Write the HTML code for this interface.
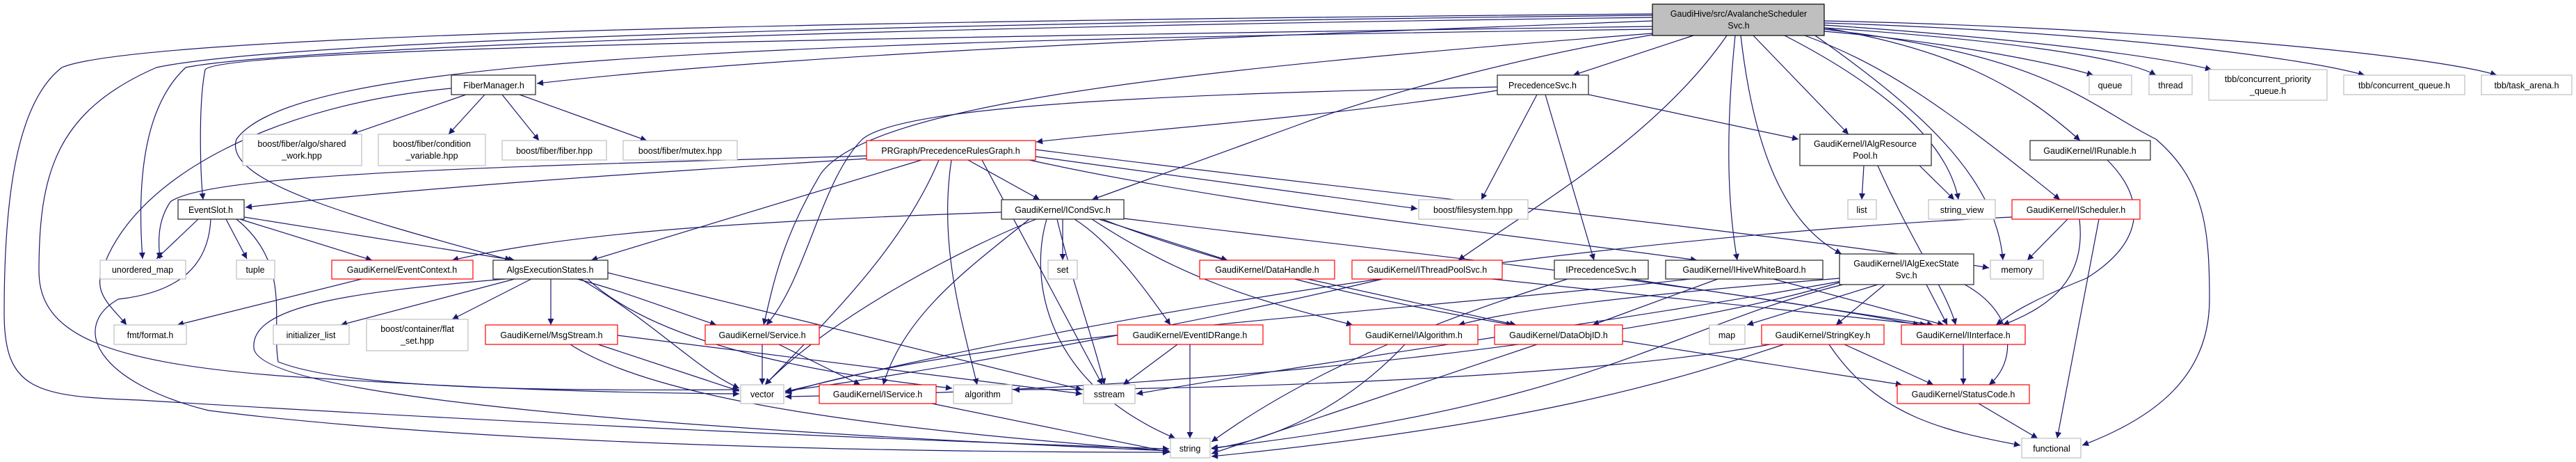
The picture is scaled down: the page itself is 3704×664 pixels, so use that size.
<!DOCTYPE html>
<html><head><meta charset="utf-8"><style>
html,body{margin:0;padding:0;background:#fff;}
svg{display:block;}
text{font-family:"Liberation Sans",sans-serif;font-size:12.5px;fill:#000;text-anchor:middle;}
.e{fill:none;stroke:#191970;stroke-width:1.2;marker-end:url(#a);}
.b{fill:#fff;stroke:#333;stroke-width:1.3;}
.r{fill:#fff;stroke:#ff0000;stroke-width:1.2;}
.g{fill:#fff;stroke:#bfbfbf;stroke-width:1.2;}
</style></head><body>
<svg width="3704" height="664" viewBox="0 0 3704 664" xmlns="http://www.w3.org/2000/svg">
<defs><marker id="a" viewBox="0 0 10 10" refX="10" refY="5" markerWidth="11" markerHeight="9" markerUnits="userSpaceOnUse" orient="auto"><path d="M0,0 L10,5 L0,10 z" fill="#191970"/></marker></defs>
<g>
<!-- main edges -->
<path class="e" d="M2376,30 C2000,45 1200,70 772,120"/>
<path class="e" d="M2435,51 L2262,108"/>
<path class="e" d="M2376,38 C1200,55 320,70 295,100 C285,150 288,250 292,287"/>
<path class="e" d="M2376,42 C1000,60 420,90 340,200 C320,260 500,310 735,374"/>
<path class="e" d="M2376,50 C2200,80 2000,130 1860,182 L1570,287"/>
<path class="e" d="M2483,51 C2380,200 2200,300 2097,374"/>
<path class="e" d="M2495,51 C2480,200 2485,300 2498,374"/>
<path class="e" d="M2503,51 C2520,200 2560,320 2648,365"/>
<path class="e" d="M2521,51 L2658,193"/>
<path class="e" d="M2566,51 C2700,120 2800,200 2816,287"/>
<path class="e" d="M2595,51 C2700,90 2780,140 2962,287"/>
<path class="e" d="M2623,40 C2800,70 2900,120 2991,202"/>
<path class="e" d="M2610,51 C2750,150 2870,250 2880,374"/>
<path class="e" d="M2623,42 C2950,80 3000,150 3100,200 C3170,260 3177,330 3177,430 C3177,540 3100,600 2994,640"/>
<path class="e" d="M2623,45 C2800,60 2950,90 3010,108"/>
<path class="e" d="M2623,40 C2850,55 3050,80 3100,108"/>
<path class="e" d="M2623,36 C2900,55 3100,80 3180,100"/>
<path class="e" d="M2623,33 C3000,45 3300,80 3400,108"/>
<path class="e" d="M2623,30 C3100,40 3500,80 3590,108"/>
<path class="e" d="M2376,20 C1200,30 200,50 89,97 C20,150 6,300 6,450 C6,560 50,570 200,575 C600,600 1200,630 1681,645"/>
<path class="e" d="M2376,22 C1200,35 400,60 225,97 C80,160 56,250 56,390 C56,480 150,520 400,540 C700,560 900,565 1063,566"/>
<path class="e" d="M2376,25 C1200,40 400,70 267,97 C210,150 196,250 205,372"/>
<path class="e" d="M2376,48 C1700,100 1250,150 1180,250 C1120,350 1110,420 1098,467"/>
<!-- FiberManager -->
<path class="e" d="M670,136 L505,193"/>
<path class="e" d="M697,136 L645,193"/>
<path class="e" d="M722,136 L775,202"/>
<path class="e" d="M747,136 L930,202"/>
<path class="e" d="M649,127 C400,150 200,250 150,380 C130,420 160,440 182,467"/>
<!-- PrecedenceSvc -->
<path class="e" d="M2153,125 C1700,135 1300,150 1240,200 C1180,260 1160,400 1102,467"/>
<path class="e" d="M2153,130 C1900,170 1600,190 1490,204"/>
<path class="e" d="M2210,136 L2130,287"/>
<path class="e" d="M2222,136 L2292,374"/>
<path class="e" d="M2284,136 L2586,200"/>
<!-- EventSlot -->
<path class="e" d="M285,315 L225,372"/>
<path class="e" d="M325,315 L355,372"/>
<path class="e" d="M345,315 L535,374"/>
<path class="e" d="M351,312 L740,374"/>
<path class="e" d="M303,315 C300,380 260,420 170,430 C100,470 140,550 300,590 C700,640 1300,650 1681,650"/>
<path class="e" d="M340,315 C420,380 390,460 400,520 C500,560 800,562 1063,560"/>
<!-- EventContext -->
<path class="e" d="M520,401 L255,467"/>
<!-- AlgsExecutionStates -->
<path class="e" d="M740,401 L490,467"/>
<path class="e" d="M764,401 L650,459"/>
<path class="e" d="M792,401 L792,467"/>
<path class="e" d="M830,401 C900,420 950,440 1030,467"/>
<path class="e" d="M835,401 C950,470 1000,530 1063,558"/>
<path class="e" d="M845,401 C950,500 1200,540 1369,558"/>
<path class="e" d="M727,401 C500,420 360,440 365,500 C370,560 800,610 1681,648"/>
<path class="e" d="M874,392 L1556,560"/>
<!-- MsgStream -->
<path class="e" d="M860,495 L1063,562"/>
<path class="e" d="M820,495 C950,580 1300,620 1681,648"/>
<path class="e" d="M888,482 L1556,566"/>
<!-- PRGraph -->
<path class="e" d="M1246,228 C900,250 600,270 353,298"/>
<path class="e" d="M1246,224 C700,240 300,250 245,290 C225,320 228,350 230,372"/>
<path class="e" d="M1325,230 L850,374"/>
<path class="e" d="M1392,230 L1495,287"/>
<path class="e" d="M1350,230 C1300,350 1200,450 1100,553"/>
<path class="e" d="M1368,230 C1350,350 1380,450 1405,553"/>
<path class="e" d="M1412,230 L1585,553"/>
<path class="e" d="M1489,225 L2038,300"/>
<path class="e" d="M1480,230 C1800,300 2200,340 2440,374"/>
<path class="e" d="M1489,215 C2000,280 2600,340 2860,385"/>
<!-- ICondSvc -->
<path class="e" d="M1440,305 C1000,320 800,340 650,374"/>
<path class="e" d="M1528,315 L1528,374"/>
<path class="e" d="M1580,315 L1765,374"/>
<path class="e" d="M1545,315 C1600,350 1650,420 1683,467"/>
<path class="e" d="M1480,315 C1400,380 1300,450 1270,553"/>
<path class="e" d="M1490,315 C1400,350 1200,450 1100,553"/>
<path class="e" d="M1505,315 C1480,400 1500,550 1690,630"/>
<path class="e" d="M1520,315 C1540,400 1570,480 1588,553"/>
<path class="e" d="M1570,315 C1700,400 1800,430 1945,467"/>
<path class="e" d="M1585,315 C1700,360 1900,420 2175,467"/>
<path class="e" d="M1600,312 C1900,350 2400,400 2760,467"/>
<!-- others -->
<path class="e" d="M1880,401 L2180,467"/>
<path class="e" d="M1693,495 L1615,553"/>
<path class="e" d="M1711,495 L1711,630"/>
<path class="e" d="M1096,495 L1096,553"/>
<path class="e" d="M1120,495 L1237,553"/>
<path class="e" d="M1340,580 L1683,650"/>
<path class="e" d="M1988,401 C1700,470 1300,540 1129,562"/>
<path class="e" d="M2145,401 L2770,467"/>
<path class="e" d="M2254,401 C2100,450 1900,520 1742,635"/>
<path class="e" d="M2345,401 L2780,467"/>
<path class="e" d="M2470,401 L2290,467"/>
<path class="e" d="M2550,401 L2795,467"/>
<path class="e" d="M2430,401 C2000,450 1400,480 1129,565"/>
<path class="e" d="M2700,409 L2512,467"/>
<path class="e" d="M2710,409 L2640,467"/>
<path class="e" d="M2770,409 L2800,467"/>
<path class="e" d="M2825,409 C2900,450 2900,520 2860,553"/>
<path class="e" d="M2645,400 C2400,420 2200,440 2097,467"/>
<path class="e" d="M2650,409 C2400,470 2300,580 1742,644"/>
<path class="e" d="M2645,406 C2400,480 1800,560 1129,570"/>
<path class="e" d="M2648,404 C2400,450 1900,520 1634,566"/>
<path class="e" d="M2020,495 C1950,570 1850,630 1742,645"/>
<path class="e" d="M2210,495 L1742,652"/>
<path class="e" d="M2333,490 L2735,553"/>
<path class="e" d="M2652,495 L2780,553"/>
<path class="e" d="M2565,495 C2400,550 2200,610 1742,656"/>
<path class="e" d="M2630,495 C2700,600 2800,620 2905,640"/>
<path class="e" d="M2545,495 C2300,540 1800,560 1457,560"/>
<path class="e" d="M2823,495 L2823,553"/>
<path class="e" d="M2845,580 L2930,630"/>
<path class="e" d="M2680,238 L2677,287"/>
<path class="e" d="M2760,238 L2810,287"/>
<path class="e" d="M2700,238 C2750,350 2800,420 2812,467"/>
<path class="e" d="M3030,230 C3090,290 3080,350 3000,400 C2900,440 2880,460 2870,467"/>
<path class="e" d="M2973,315 L2915,374"/>
<path class="e" d="M2990,315 C3000,400 2950,440 2880,467"/>
<path class="e" d="M3018,315 L2958,630"/>
<path class="e" d="M2893,312 C2500,330 1800,400 1129,563"/>
</g>
<g>
<rect x="2376" y="6" width="247" height="45" fill="#bfbfbf" stroke="#000" stroke-width="1.2"/><text x="2500" y="24">GaudiHive/src/AvalancheScheduler</text><text x="2500" y="41">Svc.h</text>
<rect class="b" x="649" y="108" width="121" height="28"/><text x="710" y="127">FiberManager.h</text>
<rect class="g" x="349" y="193" width="171" height="45"/><text x="434" y="211">boost/fiber/algo/shared</text><text x="434" y="228">_work.hpp</text>
<rect class="g" x="544" y="193" width="154" height="45"/><text x="621" y="211">boost/fiber/condition</text><text x="621" y="228">_variable.hpp</text>
<rect class="g" x="722" y="202" width="150" height="28"/><text x="797" y="221">boost/fiber/fiber.hpp</text>
<rect class="g" x="896" y="202" width="164" height="28"/><text x="978" y="221">boost/fiber/mutex.hpp</text>
<rect class="b" x="256" y="287" width="95" height="28"/><text x="303" y="306">EventSlot.h</text>
<rect class="g" x="144" y="374" width="123" height="27"/><text x="205" y="392">unordered_map</text>
<rect class="g" x="340" y="374" width="55" height="27"/><text x="367" y="392">tuple</text>
<rect class="r" x="477" y="374" width="203" height="27"/><text x="578" y="392">GaudiKernel/EventContext.h</text>
<rect class="b" x="709" y="374" width="165" height="27"/><text x="791" y="392">AlgsExecutionStates.h</text>
<rect class="g" x="164" y="467" width="104" height="28"/><text x="216" y="486">fmt/format.h</text>
<rect class="g" x="393" y="467" width="109" height="28"/><text x="447" y="486">initializer_list</text>
<rect class="g" x="527" y="459" width="146" height="45"/><text x="600" y="477">boost/container/flat</text><text x="600" y="494">_set.hpp</text>
<rect class="r" x="698" y="467" width="190" height="28"/><text x="793" y="486">GaudiKernel/MsgStream.h</text>
<rect class="r" x="1246" y="202" width="243" height="28"/><text x="1367" y="221">PRGraph/PrecedenceRulesGraph.h</text>
<rect class="b" x="1440" y="287" width="176" height="28"/><text x="1528" y="306">GaudiKernel/ICondSvc.h</text>
<rect class="g" x="1507" y="374" width="42" height="27"/><text x="1528" y="392">set</text>
<rect class="r" x="1725" y="374" width="194" height="27"/><text x="1822" y="392">GaudiKernel/DataHandle.h</text>
<rect class="r" x="1014" y="467" width="164" height="28"/><text x="1096" y="486">GaudiKernel/Service.h</text>
<rect class="r" x="1607" y="467" width="209" height="28"/><text x="1711" y="486">GaudiKernel/EventIDRange.h</text>
<rect class="g" x="1065" y="553" width="62" height="27"/><text x="1096" y="571">vector</text>
<rect class="r" x="1178" y="553" width="168" height="27"/><text x="1262" y="571">GaudiKernel/IService.h</text>
<rect class="g" x="1371" y="553" width="84" height="27"/><text x="1413" y="571">algorithm</text>
<rect class="g" x="1558" y="553" width="74" height="27"/><text x="1595" y="571">sstream</text>
<rect class="g" x="1683" y="630" width="57" height="28"/><text x="1711" y="649">string</text>
<rect class="b" x="2153" y="108" width="131" height="28"/><text x="2218" y="127">PrecedenceSvc.h</text>
<rect class="b" x="2588" y="193" width="189" height="45"/><text x="2682" y="211">GaudiKernel/IAlgResource</text><text x="2682" y="228">Pool.h</text>
<rect class="g" x="2040" y="287" width="157" height="28"/><text x="2118" y="306">boost/filesystem.hpp</text>
<rect class="g" x="2657" y="287" width="41" height="28"/><text x="2677" y="306">list</text>
<rect class="g" x="2773" y="287" width="96" height="28"/><text x="2821" y="306">string_view</text>
<rect class="r" x="1944" y="374" width="216" height="27"/><text x="2052" y="392">GaudiKernel/IThreadPoolSvc.h</text>
<rect class="b" x="2235" y="374" width="135" height="27"/><text x="2302" y="392">IPrecedenceSvc.h</text>
<rect class="b" x="2395" y="374" width="226" height="27"/><text x="2508" y="392">GaudiKernel/IHiveWhiteBoard.h</text>
<rect class="b" x="2645" y="365" width="193" height="44"/><text x="2741" y="383">GaudiKernel/IAlgExecState</text><text x="2741" y="400">Svc.h</text>
<rect class="r" x="1941" y="467" width="184" height="28"/><text x="2033" y="486">GaudiKernel/IAlgorithm.h</text>
<rect class="r" x="2149" y="467" width="184" height="28"/><text x="2241" y="486">GaudiKernel/DataObjID.h</text>
<rect class="g" x="2458" y="467" width="51" height="28"/><text x="2483" y="486">map</text>
<rect class="r" x="2533" y="467" width="176" height="28"/><text x="2621" y="486">GaudiKernel/StringKey.h</text>
<rect class="r" x="2734" y="467" width="178" height="28"/><text x="2823" y="486">GaudiKernel/IInterface.h</text>
<rect class="r" x="2728" y="553" width="190" height="27"/><text x="2823" y="571">GaudiKernel/StatusCode.h</text>
<rect class="g" x="3004" y="108" width="61" height="28"/><text x="3034" y="127">queue</text>
<rect class="g" x="3090" y="108" width="62" height="28"/><text x="3121" y="127">thread</text>
<rect class="g" x="3176" y="100" width="170" height="44"/><text x="3261" y="118">tbb/concurrent_priority</text><text x="3261" y="135">_queue.h</text>
<rect class="g" x="3370" y="108" width="174" height="28"/><text x="3457" y="127">tbb/concurrent_queue.h</text>
<rect class="g" x="3568" y="108" width="130" height="28"/><text x="3633" y="127">tbb/task_arena.h</text>
<rect class="b" x="2919" y="202" width="173" height="28"/><text x="3005" y="221">GaudiKernel/IRunable.h</text>
<rect class="r" x="2893" y="287" width="184" height="28"/><text x="2985" y="306">GaudiKernel/IScheduler.h</text>
<rect class="g" x="2862" y="374" width="76" height="27"/><text x="2900" y="392">memory</text>
<rect class="g" x="2907" y="630" width="85" height="28"/><text x="2950" y="649">functional</text>
</g>
</svg>
</body></html>
